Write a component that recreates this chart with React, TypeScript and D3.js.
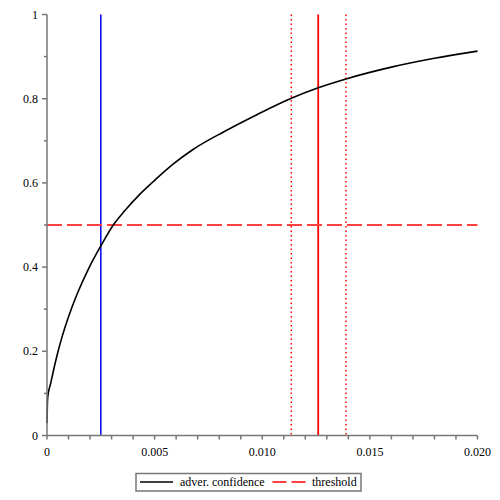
import React from "react";
import * as d3 from "d3";

const curveX = [0, 0.00003, 0.00017, 0.00033, 0.00048, 0.00071, 0.001, 0.0014, 0.0019, 0.00252, 0.00308, 0.0036, 0.00433, 0.00502, 0.00587, 0.0068, 0.0082, 0.00975, 0.01135, 0.0126, 0.01389, 0.016, 0.018, 0.02];
const curveY = [0.029, 0.09, 0.124, 0.161, 0.193, 0.236, 0.282, 0.336, 0.393, 0.452, 0.5, 0.533, 0.574, 0.607, 0.645, 0.68, 0.721, 0.762, 0.801, 0.826, 0.847, 0.875, 0.896, 0.913];
const xTicks = [0, 0.005, 0.01, 0.015, 0.02];
const xTickLabels = ["0", "0.005", "0.010", "0.015", "0.020"];
const yTicks = [0, 0.2, 0.4, 0.6, 0.8, 1];
const yTickLabels = ["0", "0.2", "0.4", "0.6", "0.8", "1"];
const thresholdY = 0.5;
const blueX = 0.0025;
const redX = 0.0126;
const redBandX = [0.01135, 0.01389];
const legendLabels = ["adver. confidence", "threshold"];

export default function App() {
  const W = 500, H = 500;
  const x = d3.scaleLinear().domain([0, 0.02]).range([47, 477.5]);
  const y = d3.scaleLinear().domain([0, 1]).range([435.5, 14.5]);
  const pts = curveX.map((v, i) => [v, curveY[i]] as [number, number]);
  const line = d3.line<[number, number]>().x(d => x(d[0])).y(d => y(d[1])).curve(d3.curveMonotoneX);
  const xMinor = d3.range(0, 0.02001, 0.001);
  const yMinor = d3.range(0, 1.001, 0.1);
  const font = "'Liberation Serif', 'Times New Roman', serif";
  return (
    <svg width={W} height={H} style={{ position: "absolute", left: 0, top: 0, background: "#fff" }}>
      <line x1={x(blueX)} x2={x(blueX)} y1={y(1)} y2={y(0)} stroke="#0000ee" strokeWidth={1.5} />
      <line x1={x(redX)} x2={x(redX)} y1={y(1)} y2={y(0)} stroke="#ff0000" strokeWidth={1.8} />
      {redBandX.map((v, i) => (
        <line key={i} x1={x(v)} x2={x(v)} y1={y(1)} y2={y(0)} stroke="#ff0000" strokeWidth={1.5} strokeDasharray="1.5,3" />
      ))}
      <line x1={x(0)} x2={x(0.02)} y1={y(thresholdY)} y2={y(thresholdY)} stroke="#ff4040" strokeWidth={2} strokeDasharray="15,5" />
      <path d={line(pts) || ""} fill="none" stroke="#000" strokeWidth={1.6} />
      <g stroke="#777" strokeWidth={1.5}>
        <line x1={x(0)} x2={x(0.02)} y1={y(0)} y2={y(0)} />
        <line x1={x(0)} x2={x(0)} y1={y(0)} y2={y(1)} />
        {xMinor.map((v, i) => (
          <line key={"xm" + i} x1={x(v)} x2={x(v)} y1={y(0)} y2={y(0) + 4} />
        ))}
        {yMinor.map((v, i) => (
          <line key={"ym" + i} x1={x(0)} x2={x(0) - (i % 2 === 0 ? 5 : 3)} y1={y(v)} y2={y(v)} />
        ))}
      </g>
      <g fontFamily={font} fontSize={12} fill="#000">
        {xTicks.map((v, i) => (
          <text key={"xt" + i} x={x(v)} y={y(0) + 20} textAnchor="middle">{xTickLabels[i]}</text>
        ))}
        {yTicks.map((v, i) => (
          <text key={"yt" + i} x={38} y={y(v) + 4} textAnchor="end">{yTickLabels[i]}</text>
        ))}
      </g>
      <rect x={136} y={473.5} width={225} height={17.5} fill="#fff" stroke="#777" strokeWidth={1.5} />
      <line x1={140} x2={173} y1={482} y2={482} stroke="#000" strokeWidth={1.6} />
      <text x={180} y={486} fontFamily={font} fontSize={12}>{legendLabels[0]}</text>
      <line x1={272.5} x2={306} y1={482} y2={482} stroke="#ff4040" strokeWidth={2} strokeDasharray="14,5" />
      <text x={312} y={486} fontFamily={font} fontSize={12}>{legendLabels[1]}</text>
    </svg>
  );
}
